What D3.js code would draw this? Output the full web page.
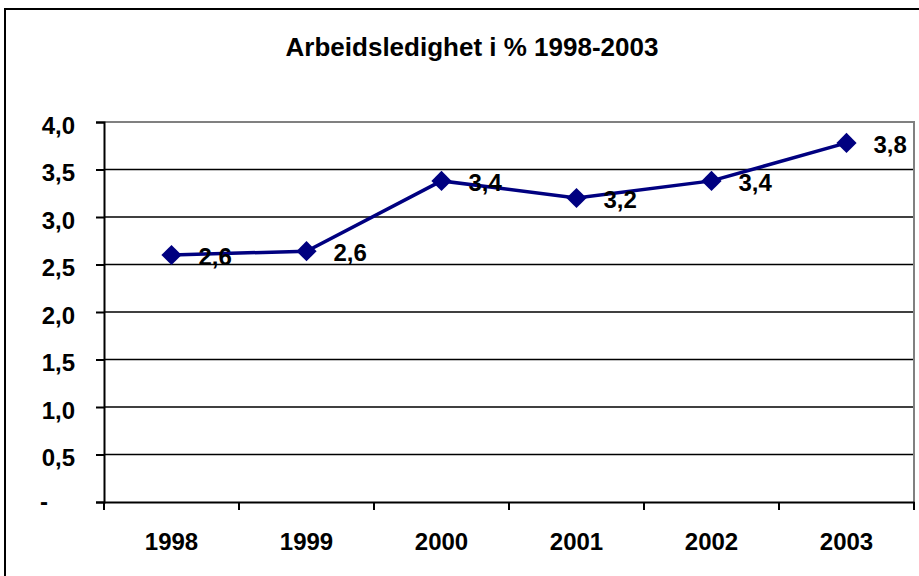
<!DOCTYPE html>
<html>
<head>
<meta charset="utf-8">
<script src="https://cdn.jsdelivr.net/npm/d3@7"></script>
<style>
body { margin: 0; background: #fff; }
text { font-family: "Liberation Sans", Arial, sans-serif; font-weight: bold; }
</style>
</head>
<body>
<div id="chart"></div>
<script>
// chart data
var years = ["1998", "1999", "2000", "2001", "2002", "2003"];
var values = [2.6, 2.64, 3.38, 3.2, 3.38, 3.78];
var labels = ["2,6", "2,6", "3,4", "3,2", "3,4", "3,8"];
var yTicks = [0, 0.5, 1, 1.5, 2, 2.5, 3, 3.5, 4];
var titleText = "Arbeidsledighet i % 1998-2003";

var widthSVG = 919;
var heightSVG = 576;
//plot area
var plotLeft = 104, plotRight = 914, plotTop = 122, plotBottom = 502;

var svg = d3.select("#chart")
	.append("svg")
	.attr("width", widthSVG)
	.attr("height", heightSVG);

// outer chart border
svg.append("rect")
	.attr("x", 5).attr("y", 9)
	.attr("width", 930).attr("height", 580)
	.attr("fill", "#fff")
	.attr("stroke", "#000")
	.attr("stroke-width", 2);

var xScale = d3.scaleBand().domain(years).range([plotLeft, plotRight]);
var yScale = d3.scaleLinear().domain([0, 4]).range([plotBottom, plotTop]);

// gridlines
svg.append("g")
	.selectAll("line").data(yTicks.slice(1, -1)).enter()
	.append("line")
	.attr("x1", plotLeft).attr("x2", plotRight)
	.attr("y1", function(d) { return yScale(d); })
	.attr("y2", function(d) { return yScale(d); })
	.attr("stroke", "#000").attr("stroke-width", 1.5);

// plot area border (top and right, grey)
svg.append("path")
	.attr("d", "M" + plotLeft + "," + plotTop + "H" + plotRight + "V" + plotBottom)
	.attr("fill", "none")
	.attr("stroke", "#808080")
	.attr("stroke-width", 2);

// y axis
var y_axis = d3.axisLeft(yScale)
	.tickValues(yTicks)
	.tickSize(8)
	.tickPadding(21)
	.tickFormat(function(d) { return d === 0 ? "-" : d3.format(".1f")(d).replace(".", ","); });

svg.append("g")
	.attr("class", "coord y")
	.attr("transform", "translate(" + plotLeft + ",0)")
	.call(y_axis);

svg.selectAll(".coord.y text").attr("dy", "0.46em");
// the zero label "-" sits further left, like an accounting format
svg.selectAll(".coord.y .tick text")
	.filter(function(d) { return d === 0; })
	.attr("x", -56)
	.attr("dy", "0.32em");

// x axis, ticks between categories
var x_axis = d3.axisBottom(xScale).tickSize(0).tickPadding(31);
svg.append("g")
	.attr("class", "coord x")
	.attr("transform", "translate(0," + plotBottom + ")")
	.call(x_axis);

svg.append("g")
	.selectAll("line").data(d3.range(years.length + 1)).enter()
	.append("line")
	.attr("x1", function(i) { return plotLeft + i * xScale.bandwidth(); })
	.attr("x2", function(i) { return plotLeft + i * xScale.bandwidth(); })
	.attr("y1", plotBottom).attr("y2", plotBottom + 8)
	.attr("stroke", "#000").attr("stroke-width", 2);

svg.selectAll(".coord path, .coord line")
	.attr("stroke", "#000")
	.attr("stroke-width", 2);
svg.selectAll(".coord text")
	.attr("font-size", "24px")
	.attr("fill", "#000");

// line
var line = d3.line()
	.x(function(d, i) { return xScale(years[i]) + xScale.bandwidth() / 2; })
	.y(function(d) { return yScale(d); });

svg.append("path")
	.datum(values)
	.attr("d", line)
	.attr("fill", "none")
	.attr("stroke", "#000080")
	.attr("stroke-width", 3.5);

// diamond markers
svg.append("g")
	.selectAll("path").data(values).enter()
	.append("path")
	.attr("d", d3.symbol().type(d3.symbolDiamond2).size(260))
	.attr("transform", function(d, i) {
		return "translate(" + (xScale(years[i]) + xScale.bandwidth() / 2) + "," + yScale(d) + ")";
	})
	.attr("fill", "#000080");

// data labels
svg.append("g")
	.selectAll("text").data(values).enter()
	.append("text")
	.attr("x", function(d, i) { return xScale(years[i]) + xScale.bandwidth() / 2 + 27; })
	.attr("y", function(d) { return yScale(d) + 10; })
	.attr("font-size", "24px")
	.attr("fill", "#000")
	.text(function(d, i) { return labels[i]; });

// title
svg.append("text")
	.attr("x", 472)
	.attr("y", 56)
	.attr("text-anchor", "middle")
	.attr("font-size", "26px")
	.text(titleText);
</script>
</body>
</html>
